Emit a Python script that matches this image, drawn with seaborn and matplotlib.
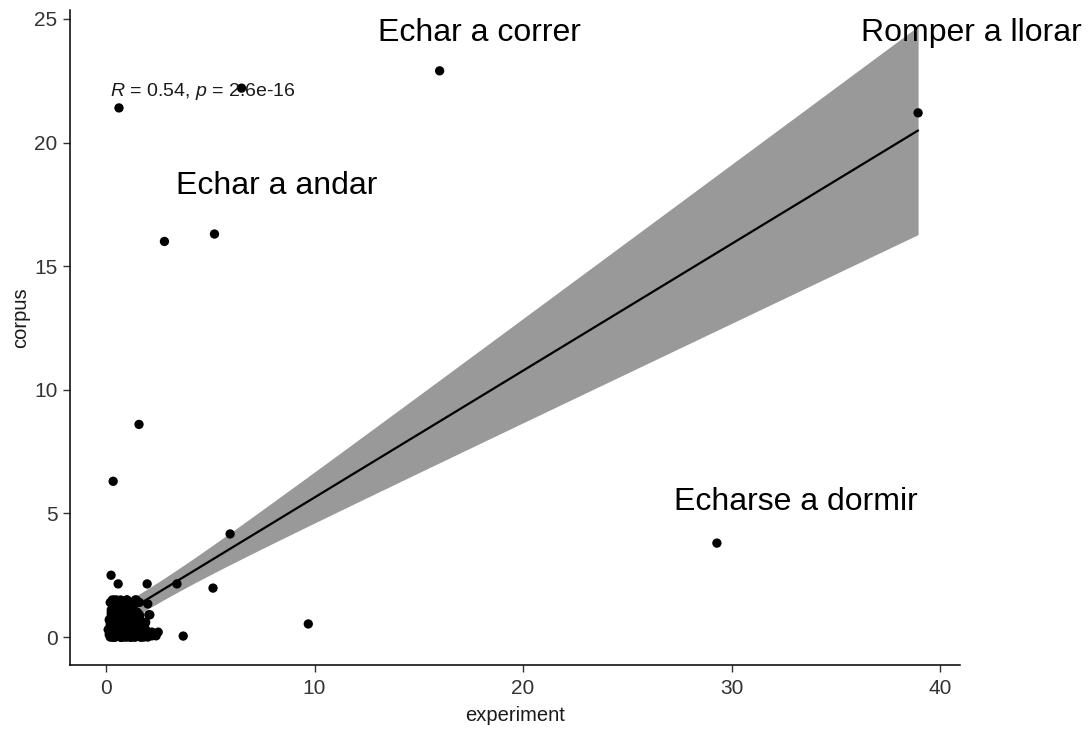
import numpy as np
import pandas as pd
import matplotlib
matplotlib.use("Agg")
import matplotlib.pyplot as plt
import seaborn as sns

# ---- data ----
outlier_x = [0.62, 6.5, 16.0, 38.95, 2.8, 5.2, 1.58, 0.34, 29.3, 5.95, 9.7, 5.13,
             3.4, 3.7, 0.24, 0.58, 1.97, 2.0, 2.1]
outlier_y = [21.4, 22.2, 22.9, 21.2, 16.0, 16.3, 8.6, 6.3, 3.8, 4.17, 0.53, 1.98,
             2.15, 0.04, 2.5, 2.15, 2.15, 1.34, 0.9]

cluster_x = [
    0.2, 0.3, 0.4, 0.5, 0.6, 0.7, 0.8, 0.9, 1.0, 1.1,
    0.2, 0.3, 0.4, 0.5, 0.6, 0.7, 0.8, 0.9, 1.0, 1.2,
    0.25, 0.35, 0.45, 0.55, 0.65, 0.75, 0.85, 0.95, 1.05, 1.3,
    0.3, 0.4, 0.5, 0.6, 0.7, 0.8, 0.9, 1.0, 1.1, 1.4,
    0.15, 0.3, 0.45, 0.6, 0.75, 0.9, 1.05, 1.2, 1.35, 1.5,
    0.2, 0.35, 0.5, 0.65, 0.8, 0.95, 1.1, 1.25, 1.4, 1.55,
    0.25, 0.4, 0.55, 0.7, 0.85, 1.0, 1.15, 1.3, 1.45, 1.6,
    0.3, 0.45, 0.6, 0.75, 0.9, 1.05, 1.2, 1.35, 1.5, 1.65,
    0.1, 0.2, 0.3, 0.4, 0.5, 0.6, 0.7, 0.8, 0.9, 1.0,
    0.5, 0.6, 0.7, 0.8, 0.9, 1.0, 1.1, 1.2, 1.3, 1.7,
    0.35, 0.55, 0.75, 0.95, 1.15, 1.35, 1.55, 1.75, 1.8, 1.9,
    0.2, 0.4, 0.6, 0.8, 1.0, 1.2, 1.4, 1.6, 1.85, 2.0,
    0.3, 0.5, 0.7, 0.9, 1.1, 1.3, 1.5, 1.7, 2.1, 2.2,
    0.4, 0.6, 0.8, 1.0, 1.2, 1.4, 1.6, 2.3, 2.4, 2.5,
    0.15, 0.25, 0.35, 0.45, 0.55, 0.65, 0.75, 0.85, 0.95, 1.05,
    0.5, 0.7, 0.9, 1.1, 1.3, 1.5, 1.7, 1.9, 2.0, 2.2,
    0.3, 0.6, 0.9, 1.2, 1.5, 0.45, 0.8, 1.15, 1.45, 1.75,
    0.25, 0.55, 0.85, 1.15, 1.45, 0.4, 0.7, 1.0, 1.3, 2.05,
]
cluster_y = [
    0.0, 0.1, 0.0, 0.2, 0.1, 0.0, 0.3, 0.1, 0.0, 0.2,
    0.5, 0.3, 0.6, 0.4, 0.7, 0.5, 0.2, 0.6, 0.4, 0.1,
    1.0, 0.8, 1.2, 0.9, 1.1, 0.8, 1.0, 0.7, 0.9, 0.3,
    1.5, 1.4, 1.5, 1.3, 1.5, 1.2, 1.4, 1.5, 1.3, 0.0,
    0.1, 0.2, 0.0, 0.3, 0.1, 0.4, 0.2, 0.0, 0.1, 0.2,
    0.6, 0.7, 0.5, 0.9, 0.6, 0.8, 0.5, 0.7, 0.4, 0.6,
    1.1, 1.3, 1.0, 1.2, 0.9, 1.1, 1.0, 1.2, 1.0, 0.9,
    0.0, 0.1, 0.2, 0.0, 0.1, 0.3, 0.0, 0.2, 0.1, 0.0,
    0.3, 0.2, 0.4, 0.3, 0.2, 0.4, 0.3, 0.4, 0.2, 0.3,
    0.8, 1.0, 0.7, 0.9, 1.0, 0.6, 0.8, 0.9, 0.7, 0.3,
    0.0, 0.1, 0.0, 0.2, 0.1, 0.0, 0.2, 0.1, 0.0, 0.3,
    1.4, 1.5, 1.2, 1.4, 1.5, 1.3, 1.5, 1.4, 0.5, 0.2,
    0.5, 0.4, 0.6, 0.3, 0.5, 0.4, 0.3, 0.5, 0.1, 0.2,
    0.9, 1.1, 1.2, 0.8, 1.1, 1.0, 0.8, 0.1, 0.05, 0.2,
    0.7, 0.9, 0.6, 0.8, 0.7, 0.9, 0.6, 0.8, 0.5, 0.7,
    0.2, 0.1, 0.0, 0.3, 0.2, 0.1, 0.0, 0.6, 0.0, 0.05,
    0.8, 0.3, 1.3, 0.6, 1.0, 0.05, 0.5, 1.4, 0.6, 0.4,
    0.2, 1.4, 0.1, 0.0, 1.5, 1.0, 0.0, 1.1, 0.1, 0.9,
]

labels = ["Echar a correr", "Romper a llorar", "Echar a andar", "Echarse a dormir"]
label_x = [17.9, 41.5, 8.2, 33.1]
label_y = [24.45, 24.45, 18.25, 5.45]

stat_text = r"$\it{R}$ = 0.54, $\it{p}$ = 2.6e-16"

df = pd.DataFrame({
    "experiment": outlier_x + cluster_x,
    "corpus": outlier_y + cluster_y,
})

# ---- style ----
sns.set_theme(style="ticks")
plt.rcParams["font.family"] = ["Liberation Sans", "DejaVu Sans"]
plt.rcParams["mathtext.fontset"] = "custom"
plt.rcParams["mathtext.it"] = "Liberation Sans:italic"
plt.rcParams["mathtext.rm"] = "Liberation Sans"

fig = plt.figure(figsize=(10.89, 7.30), dpi=100)
ax = fig.add_axes([70 / 1089, 65 / 730, 890 / 1089, 655 / 730])

# regression line + analytic 95% confidence band
x = df["experiment"].to_numpy()
y = df["corpus"].to_numpy()
n = len(x)
slope, intercept = np.polyfit(x, y, 1)
xs = np.linspace(x.min(), x.max(), 200)
fit = intercept + slope * xs
resid = y - (intercept + slope * x)
s = np.sqrt(np.sum(resid ** 2) / (n - 2))
sxx = np.sum((x - x.mean()) ** 2)
se = s * np.sqrt(1 / n + (xs - x.mean()) ** 2 / sxx)
tval = 1.972
ax.fill_between(xs, fit - tval * se, fit + tval * se, color="#999999", lw=0, zorder=1)
sns.regplot(data=df, x="experiment", y="corpus", scatter=False, ci=None,
            color="black", line_kws={"lw": 1.6, "zorder": 2}, ax=ax)

sns.scatterplot(data=df, x="experiment", y="corpus", color="black", s=45,
                edgecolor="none", ax=ax, zorder=3)

for t, lx, ly in zip(labels, label_x, label_y):
    ax.text(lx, ly, t, fontsize=23, ha="center", va="center", color="black", clip_on=False)

ax.text(0.19, 22.05, stat_text, fontsize=14, ha="left", va="center", color="#1a1a1a")

ax.set_xlim(-1.73, 40.96)
ax.set_ylim(-1.13, 25.36)
ax.set_xticks([0, 10, 20, 30, 40])
ax.set_yticks([0, 5, 10, 15, 20, 25])
ax.set_xlabel("experiment", fontsize=14.5, color="#1a1a1a")
ax.set_ylabel("corpus", fontsize=14.5, color="#1a1a1a")
ax.xaxis.set_label_coords(0.5, -0.062)
ax.yaxis.set_label_coords(-0.045, 0.53)
ax.tick_params(axis="both", labelsize=15, colors="#333333", length=5, width=1)
ax.tick_params(axis="x", pad=5)
ax.tick_params(axis="y", pad=4)
for sp in ["top", "right"]:
    ax.spines[sp].set_visible(False)
for sp in ["left", "bottom"]:
    ax.spines[sp].set_color("black")
    ax.spines[sp].set_linewidth(1.1)

fig.savefig("out.png", dpi=100)
